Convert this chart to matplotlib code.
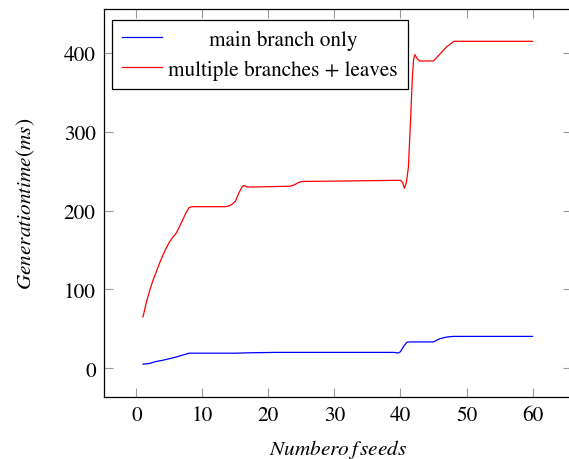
import matplotlib
matplotlib.use("Agg")
import matplotlib.pyplot as plt

plt.rcParams['font.family'] = ['STIXGeneral', 'DejaVu Serif']
plt.rcParams['mathtext.fontset'] = 'stix'

# main branch only (blue)
blue_x = [1, 2, 3, 4, 5, 6, 7, 8, 10, 15, 17, 21, 30, 39, 39.7, 40, 40.5, 41, 41.5, 45, 45.5, 46, 47, 48, 50, 60]
blue_y = [5, 6, 8.5, 10, 12, 14, 16.5, 19, 19, 19, 19.5, 20, 20, 20, 19.3, 21, 28, 33, 33.3, 33.3, 35.5, 37.5, 39.5, 40.3, 40.3, 40.3]

# multiple branches + leaves (red)
red_x = [1, 1.5, 2, 2.5, 3, 3.5, 4, 4.5, 5, 5.5, 6, 6.5, 7, 7.5, 8, 8.5, 10, 12, 13.5, 14, 14.5, 15, 15.5, 16, 16.3, 16.8, 18, 23.3, 24, 24.5, 25.1, 30, 35, 40, 40.3, 40.6, 40.9, 41.2, 41.5, 41.8, 42, 42.2, 42.5, 42.9, 44, 45, 46, 47, 48.1, 50, 60]
red_y = [65, 83, 98, 111, 122, 133, 143, 152, 160, 166, 171, 179, 188, 197, 204, 205, 205, 205, 205, 206, 208, 212, 222, 230, 232, 230, 230, 231, 233, 235.5, 237, 237.5, 238, 238.5, 236, 228.5, 236, 255, 310, 370, 393, 398, 393, 390, 390, 390, 399, 408, 415, 415, 415]

W, H = 569, 460
fig = plt.figure(figsize=(W / 100, H / 100), dpi=100)
left, right, top, bottom = 104, 571.5, 10, 397.5
ax = fig.add_axes([left / W, (H - bottom) / H, (right - left) / W, (bottom - top) / H])

ax.plot(blue_x, blue_y, color='#0000ff', lw=0.9, label='main branch only', solid_joinstyle='round')
ax.plot(red_x, red_y, color='#ff0000', lw=0.9, label='multiple branches + leaves', solid_joinstyle='round')

fs = 15.3
ax.set_xlim(-4.9, 65.9)
ax.set_ylim(-36, 456)
ax.set_xticks([0, 10, 20, 30, 40, 50, 60])
ax.set_yticks([0, 100, 200, 300, 400])
ax.tick_params(direction='in', length=6.5, width=0.8, color='#999999',
               top=True, right=True, labelsize=fs, pad=6)
for s in ax.spines.values():
    s.set_linewidth(0.9)
    s.set_color('black')

ax.set_xlabel(r'$Numbero\,f\,seeds$', fontsize=fs, labelpad=9)
ax.set_ylabel(r'$Generation time (ms)$', fontsize=fs, labelpad=19)

leg = ax.legend(loc='upper left', bbox_to_anchor=((112 - left) / (right - left), (bottom - 21) / (bottom - top)),
                borderaxespad=0, fancybox=False, framealpha=1, edgecolor='black',
                fontsize=fs, handlelength=1.9, handletextpad=0.3, borderpad=0.45,
                labelspacing=0.45)
leg.get_frame().set_linewidth(0.9)

fig.canvas.draw()
r = fig.canvas.get_renderer()
texts = leg.get_texts()
widths = [t.get_window_extent(r).width for t in texts]
wmax = max(widths)
for t, w in zip(texts, widths):
    t.set_x((wmax - w) / 2)

fig.savefig('out.png', dpi=100)
